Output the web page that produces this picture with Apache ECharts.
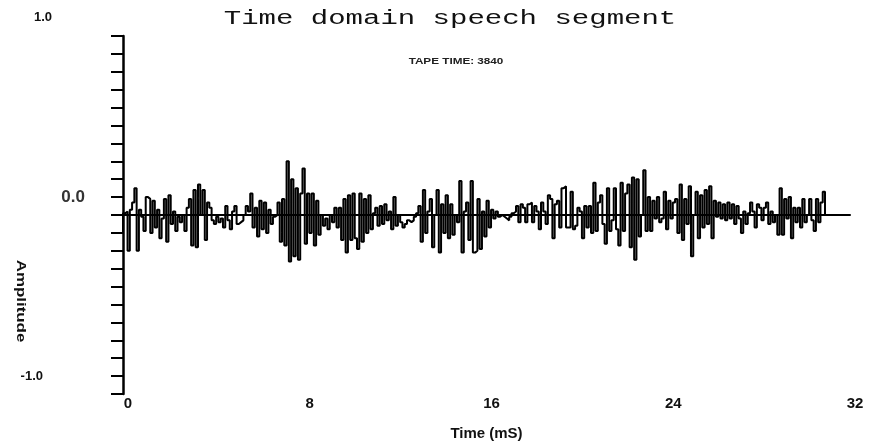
<!DOCTYPE html>
<html>
<head>
<meta charset="utf-8">
<title>Time domain speech segment</title>
<script src="https://cdn.jsdelivr.net/npm/echarts@6/dist/echarts.min.js"></script>
<style>
  html, body { margin: 0; padding: 0; background: #fff; }
  #chart { width: 870px; height: 446px; }
</style>
</head>
<body>
<div id="chart"></div>
<script>
// sample step in mS (10 kHz)
const sampleMs = 0.1
// amplitude per sample
const amplitude = [
  -0.10, 0.01, 0.02, -0.20, 0.03, 0.07, 0.15, -0.20, 0.03, -0.01,
  -0.09, 0.10, 0.09, -0.10, 0.08, -0.07, 0.03, -0.13, -0.02, 0.09,
  -0.15, 0.11, -0.05, 0.02, -0.09, -0.01, -0.04, 0.00, -0.09, 0.04,
  0.09, -0.17, 0.14, -0.18, 0.17, 0.00, 0.14, -0.14, 0.07, 0.04,
  -0.03, -0.05, -0.01, -0.04, -0.02, -0.07, 0.05, -0.03, -0.08, 0.02,
  0.05, -0.05,
  -0.04, -0.03, 0.00, 0.05, 0.02, 0.12, -0.07, 0.04, -0.12, 0.08,
  -0.08, 0.07, -0.10, 0.03, -0.05, -0.01, 0.00, 0.07, -0.15, 0.09,
  -0.17, 0.30, -0.26, 0.20, -0.23, 0.15, -0.25, 0.12, 0.26, -0.16,
  0.12, -0.10, 0.12, -0.17, 0.08, -0.11, 0.00, -0.06, -0.02, -0.08,
  0.00, -0.04, 0.04, -0.07, 0.04, -0.14, 0.09, -0.21, 0.11, -0.14,
  0.12, -0.13,
  -0.19, 0.12, -0.15, 0.09, -0.10, 0.11, -0.08, 0.01, 0.04, -0.06,
  0.05, -0.05, 0.06, -0.03, 0.02, -0.08, 0.10, -0.06, 0.00, -0.04,
  -0.07, -0.05, -0.03, -0.04, -0.03, -0.01, 0.01, 0.05, -0.15, 0.14,
  -0.10, 0.02, 0.09, -0.18, 0.00, 0.14, -0.21, 0.06, -0.10, 0.11,
  -0.13, 0.06, -0.11, 0.00, -0.04, 0.19, -0.21, 0.02, 0.07, -0.14,
  0.19, -0.21,
  -0.20, 0.09, -0.19, 0.02, -0.12, 0.08, -0.07, 0.03, -0.02, 0.02,
  -0.01, 0.00, -0.01, -0.02, -0.03, -0.01, 0.01, 0.02, 0.05, -0.04,
  0.06, 0.04, -0.04, 0.06, 0.07, -0.04, 0.05, 0.02, -0.08, 0.07,
  0.02, -0.05, 0.11, 0.09, -0.13, 0.06, 0.08, -0.07, 0.15, 0.16,
  -0.07, -0.07, 0.13, -0.08, -0.06, 0.04, 0.02, -0.13, 0.05, -0.07,
  0.05, -0.10,
  0.18, -0.09, 0.07, 0.11, -0.05, -0.16, 0.15, -0.09, -0.03, 0.15,
  -0.08, -0.17, 0.18, -0.09, 0.12, 0.17, -0.18, 0.21, -0.25, 0.20,
  -0.12, 0.00, 0.25, -0.09, 0.10, -0.09, 0.08, -0.02, 0.10, -0.04,
  -0.02, 0.13, -0.08, 0.08, -0.02, 0.07, 0.09, -0.10, 0.17, -0.14,
  0.09, -0.05, 0.16, -0.23, 0.00, 0.13, -0.13, 0.11, -0.07, 0.14,
  -0.05, 0.16,
  -0.13, 0.08, -0.01, 0.07, -0.02, 0.06, -0.03, 0.07, -0.02, 0.06,
  -0.05, 0.05, -0.02, -0.10, 0.02, -0.05, 0.01, 0.07, 0.02, -0.07,
  0.06, 0.04, -0.03, 0.04, 0.07, -0.05, 0.02, -0.04, 0.00, -0.11,
  0.15, -0.11, 0.09, -0.02, 0.10, -0.13, 0.04, -0.04, 0.04, -0.07,
  0.09, -0.04, 0.00, 0.09, -0.03, -0.09, 0.09, -0.04, 0.07, 0.13,
  0.00
]
const xTicks = [0, 8, 16, 24, 32]
const yTickLabels = { '1': '{a|1.0}', '0': '{b|0.0}', '-1': '{c|-1.0}' }

const chartTitle = 'Time domain speech segment'
const chartSubTitle = 'TAPE TIME: 3840'

const chart = echarts.init(document.getElementById('chart'), null, { renderer: 'canvas' })

const seriesData = amplitude.map((v, i) => [Math.round(i * sampleMs * 10) / 10, v])

const option = {
  animation: false,
  backgroundColor: '#fff',
  grid: { left: 123, right: 20, top: 36, bottom: 48 },
  graphic: [
    {
      type: 'text', x: 450, y: 19, scaleX: 1.45,
      style: { text: chartTitle, font: '20px "Liberation Mono", monospace', fill: '#111', align: 'center', verticalAlign: 'middle' }
    },
    {
      type: 'text', x: 456, y: 62, scaleX: 1.3,
      style: { text: chartSubTitle, font: 'bold 9px "Liberation Sans", Arial', fill: '#222', align: 'center', verticalAlign: 'middle' }
    },
    {
      type: 'text', x: 21, y: 301, rotation: -Math.PI / 2, scaleX: 1.3,
      style: { text: 'Amplitude', font: 'bold 13px "Liberation Sans", Arial', fill: '#111', align: 'center', verticalAlign: 'middle' }
    }
  ],
  xAxis: {
    type: 'value',
    min: xTicks[0],
    max: xTicks[xTicks.length - 1],
    interval: 8,
    name: 'Time (mS)',
    nameLocation: 'middle',
    nameGap: 32,
    nameTextStyle: { color: '#111', fontSize: 15, fontWeight: 'bold', fontFamily: 'Liberation Sans' },
    axisLine: { lineStyle: { color: '#000', width: 2 } },
    axisTick: { show: false },
    splitLine: { show: false },
    axisLabel: {
      color: '#111', fontSize: 15, fontWeight: 'bold', fontFamily: 'Liberation Sans',
      margin: 2, padding: [0, 0, 0, 10],
      showMinLabel: true, showMaxLabel: true
    }
  },
  yAxis: {
    type: 'value',
    min: -1,
    max: 1,
    interval: 0.1,
    axisLine: { lineStyle: { color: '#000', width: 2.5 } },
    axisTick: { length: 12, lineStyle: { color: '#000', width: 2 } },
    splitLine: { show: false },
    axisLabel: {
      margin: 38,
      formatter: function (v) {
        const key = String(Math.round(v * 10) / 10)
        return yTickLabels[key] || ''
      },
      rich: {
        a: { color: '#111', fontSize: 13, fontWeight: 'bold', fontFamily: 'Liberation Sans', padding: [0, 33, 38, 0] },
        b: { color: '#333', fontSize: 17, fontWeight: 'bold', fontFamily: 'Liberation Sans', padding: [0, 0, 36, 0] },
        c: { color: '#111', fontSize: 13, fontWeight: 'bold', fontFamily: 'Liberation Sans', padding: [0, 42, 36, 0] }
      }
    }
  },
  series: [
    {
      type: 'line',
      step: 'start',
      data: seriesData,
      showSymbol: false,
      silent: true,
      lineStyle: { color: '#000', width: 2 },
      markLine: {
        silent: true,
        symbol: ['none', 'none'],
        label: { show: false },
        lineStyle: { color: '#000', width: 1.5, type: 'solid' },
        data: [{ yAxis: 0 }]
      }
    }
  ]
}

chart.setOption(option)
window.addEventListener('resize', () => {
  chart.resize()
})
</script>
</body>
</html>
